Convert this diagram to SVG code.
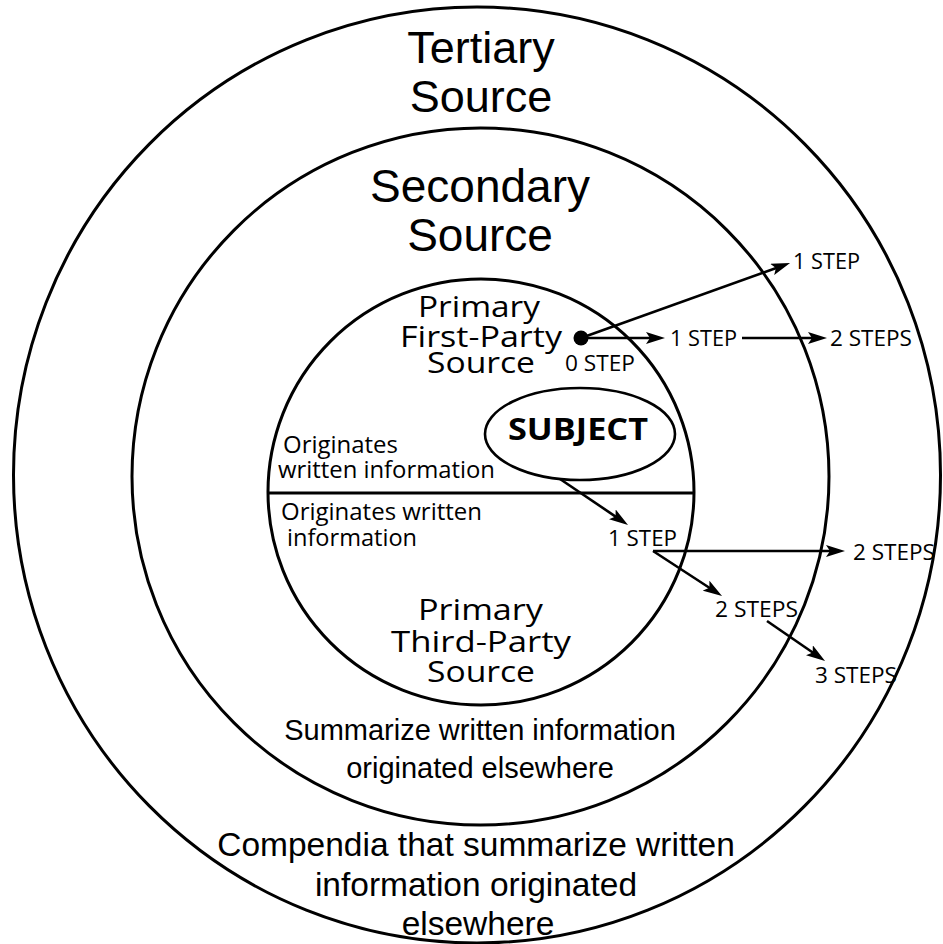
<svg xmlns="http://www.w3.org/2000/svg" width="943" height="944" viewBox="0 0 943 944">
<style>
.ring{fill:none;stroke:#000;stroke-width:3}
.arial{font-family:"Liberation Sans",Arial,sans-serif;fill:#000}
.myr{font-family:"Open Sans","Noto Sans",sans-serif;fill:#000}
.step{font-family:"Open Sans","Noto Sans",sans-serif;font-size:21px;fill:#000}
.conn{fill:none;stroke:#000;stroke-width:2.6}
</style>
<defs>
<marker id="ah" markerWidth="19" markerHeight="12" refX="8" refY="6" orient="auto" markerUnits="userSpaceOnUse">
<path d="M0,0 L19,6 L0,12 L4,6 Z" fill="#000"/>
</marker>
</defs>
<rect width="943" height="944" fill="#fff"/>

<g id="tertiary">
<ellipse class="ring" cx="477" cy="475" rx="463.5" ry="468"/>
<text class="arial" font-size="45" text-anchor="middle" x="481" y="63">Tertiary</text>
<text class="arial" font-size="45" text-anchor="middle" x="481" y="112">Source</text>
<text class="arial" font-size="33.5" text-anchor="middle" x="476" y="856">Compendia that summarize written</text>
<text class="arial" font-size="33.5" text-anchor="middle" x="476" y="896">information originated</text>
<text class="arial" font-size="33.5" text-anchor="middle" x="478" y="935">elsewhere</text>
</g>

<g id="secondary">
<circle class="ring" cx="480.5" cy="476.5" r="348.5"/>
<text class="arial" font-size="46" text-anchor="middle" x="480" y="202">Secondary</text>
<text class="arial" font-size="46" text-anchor="middle" x="480" y="251">Source</text>
<text class="arial" font-size="29" text-anchor="middle" x="480" y="740">Summarize written information</text>
<text class="arial" font-size="29" text-anchor="middle" x="480" y="778">originated elsewhere</text>
</g>

<g id="primary">
<circle class="ring" cx="481" cy="492" r="213"/>
<line x1="268" y1="493" x2="694" y2="493" stroke="#000" stroke-width="3"/>
</g>

<g id="primary-first-party">
<text class="myr" font-size="30" x="418" y="317" textLength="122" lengthAdjust="spacingAndGlyphs">Primary</text>
<text class="myr" font-size="30" x="400" y="347" textLength="162" lengthAdjust="spacingAndGlyphs">First-Party</text>
<text class="myr" font-size="30" x="427" y="373" textLength="108" lengthAdjust="spacingAndGlyphs">Source</text>
<text class="myr" font-size="23" x="283" y="453" textLength="115" lengthAdjust="spacingAndGlyphs">Originates</text>
<text class="myr" font-size="23" x="278" y="478" textLength="217" lengthAdjust="spacingAndGlyphs">written information</text>
</g>

<g id="primary-third-party">
<text class="myr" font-size="23" x="281" y="520" textLength="201" lengthAdjust="spacingAndGlyphs">Originates written</text>
<text class="myr" font-size="23" x="287" y="546" textLength="130" lengthAdjust="spacingAndGlyphs">information</text>
<text class="myr" font-size="30" x="418" y="620" textLength="125" lengthAdjust="spacingAndGlyphs">Primary</text>
<text class="myr" font-size="30" x="391" y="652" textLength="180" lengthAdjust="spacingAndGlyphs">Third-Party</text>
<text class="myr" font-size="30" x="427" y="682" textLength="108" lengthAdjust="spacingAndGlyphs">Source</text>
</g>

<g id="subject">
<ellipse cx="580" cy="434" rx="95" ry="46" fill="none" stroke="#000" stroke-width="2.6"/>
<text class="myr" font-size="30" font-weight="bold" x="508" y="440" textLength="140" lengthAdjust="spacingAndGlyphs">SUBJECT</text>
</g>

<g id="origin-point">
<circle cx="581" cy="338" r="7.5" fill="#000"/>
<text class="step" x="565" y="371" textLength="70" lengthAdjust="spacingAndGlyphs">0 STEP</text>
</g>

<g id="step-labels">
<text class="step" x="793" y="269" textLength="67" lengthAdjust="spacingAndGlyphs">1 STEP</text>
<text class="step" x="670" y="346" textLength="67" lengthAdjust="spacingAndGlyphs">1 STEP</text>
<text class="step" x="830" y="346" textLength="82" lengthAdjust="spacingAndGlyphs">2 STEPS</text>
<text class="step" x="608" y="546" textLength="69" lengthAdjust="spacingAndGlyphs">1 STEP</text>
<text class="step" x="853" y="560" textLength="82" lengthAdjust="spacingAndGlyphs">2 STEPS</text>
<text class="step" x="715" y="617" textLength="83" lengthAdjust="spacingAndGlyphs">2 STEPS</text>
<text class="step" x="815" y="683" textLength="82" lengthAdjust="spacingAndGlyphs">3 STEPS</text>
</g>

<g id="connectors">
<line class="conn" x1="581" y1="338" x2="779.7" y2="266.7" marker-end="url(#ah)"/>
<line class="conn" x1="581" y1="338" x2="654" y2="338" marker-end="url(#ah)"/>
<line class="conn" x1="742" y1="338" x2="816" y2="338" marker-end="url(#ah)"/>
<line class="conn" x1="560" y1="479" x2="618.9" y2="518.8" marker-end="url(#ah)"/>
<line class="conn" x1="653" y1="551" x2="834" y2="551" marker-end="url(#ah)"/>
<line class="conn" x1="653" y1="551" x2="712.8" y2="590" marker-end="url(#ah)"/>
<line class="conn" x1="767" y1="621" x2="816" y2="654.8" marker-end="url(#ah)"/>
</g>
</svg>
